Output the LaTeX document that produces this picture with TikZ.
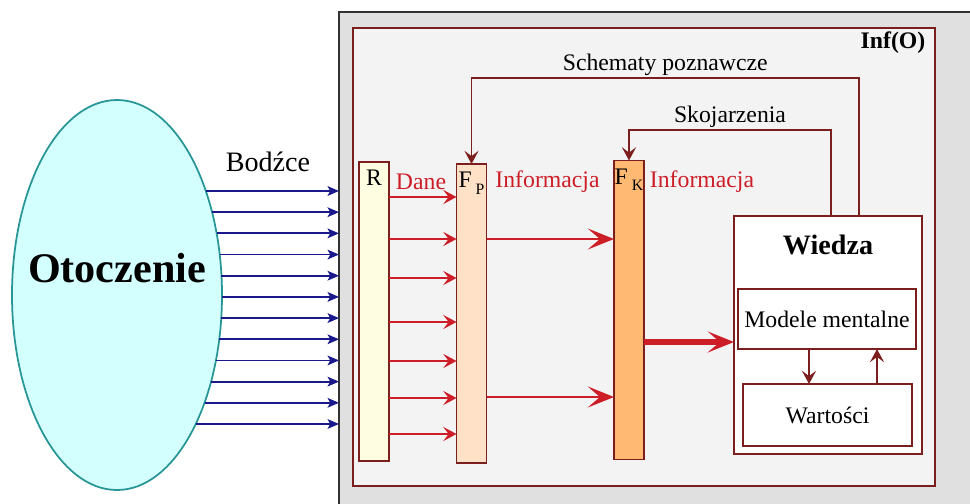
\documentclass[tikz,border=0pt]{standalone}
\usepackage{fontspec}
\setmainfont{Liberation Serif}
\usetikzlibrary{arrows.meta,positioning,shapes.geometric,calc}
\definecolor{inframe}{RGB}{125,30,30}
\definecolor{infored}{RGB}{205,30,40}
\definecolor{stimblue}{RGB}{25,25,140}
\definecolor{envfill}{RGB}{212,255,255}
\definecolor{envedge}{RGB}{40,150,150}
\definecolor{sysgrey}{RGB}{224,224,224}
\definecolor{sysedge}{RGB}{50,50,50}
\definecolor{infgrey}{RGB}{243,243,243}
\definecolor{rfill}{RGB}{255,253,225}
\definecolor{fpfill}{RGB}{255,225,200}
\definecolor{fkfill}{RGB}{255,185,115}
\newcommand\filtsub[1]{\,\raisebox{-0.13cm}{\fontsize{9}{10}\selectfont #1}}

\begin{document}
\begin{tikzpicture}[
    lbl/.style={font=\fontsize{13.5}{16}\selectfont, inner sep=1pt, text=black},
    redlbl/.style={lbl, text=infored},
    bar/.style={rectangle, draw=inframe, line width=1pt, minimum width=0.6cm,
                minimum height=5.98cm, inner sep=0pt, outer sep=0pt},
    kbox/.style={rectangle, draw=inframe, line width=1pt, fill=white,
                 inner sep=0pt, outer sep=0pt, font=\fontsize{13.5}{16}\selectfont},
    stim/.style={-{Stealth[length=6.5pt,width=5.5pt,inset=1.5pt]}, line width=1pt, stimblue},
    dat/.style={-{Stealth[length=7.5pt,width=8pt,inset=3pt]}, line width=1pt, infored},
    infarr/.style={-{Stealth[length=15pt,width=12pt,inset=7pt]}, line width=1pt, infored},
    fb/.style={-{Stealth[length=7.5pt,width=8pt,inset=3pt]}, line width=1pt, inframe}
  ]
    \clip (0,0) rectangle (19.4,10.06);

    % environment
    \node[ellipse, draw=envedge, fill=envfill, line width=1pt, minimum width=4.2cm,
          minimum height=7.8cm, inner sep=0pt, outer sep=0pt] (env) at (2.34,4.16) {};
    \node[font=\fontsize{24}{28}\selectfont\bfseries] (envtxt) at (2.34,4.70) {Otoczenie};

    % system and Inf(O)
    \node[rectangle, draw=sysedge, fill=sysgrey, line width=1pt, anchor=north west,
          minimum width=14cm, minimum height=11cm, outer sep=0pt] (sys) at (6.78,9.82) {};
    \node[rectangle, draw=inframe, fill=infgrey, line width=1pt, anchor=north west,
          minimum width=11.64cm, minimum height=9.16cm, inner sep=0pt] (inf) at (7.04,9.52) {};
    \node[lbl, font=\fontsize{13.5}{16}\selectfont\bfseries] (inflbl) at (17.86,9.2) {Inf(O)};

    % stimuli
    \node[font=\fontsize{16}{19}\selectfont] (bodz) at (5.36,6.82) {Bodźce};
    \foreach \i in {0,...,11} {
      \pgfmathsetmacro\dy{2.08-0.4236*\i}
      \pgfmathsetmacro\bx{2.1*sqrt(1-(\dy/3.9)^2)}
      \draw[stim] ($(env.center)+(\bx,\dy)$) coordinate (s) -- (s -| sys.west);
    }

    % filters
    \node[bar, fill=rfill]  (R)  at (7.48,3.83) {};
    \node[bar, fill=fpfill] (FP) at (9.43,3.79) {};
    \node[bar, fill=fkfill] (FK) at (12.58,3.86) {};
    \node[lbl, below=0.12cm of R.north]  {R};
    \node[lbl, below=0.12cm of FP.north] {F\filtsub{P}};
    \node[lbl, below=0.12cm of FK.north] {F\filtsub{K}};

    \node[redlbl] (dane)  at (8.42,6.42)  {Dane};
    \node[redlbl] (info1) at (10.95,6.42) {Informacja};
    \node[redlbl] (info2) at (14.04,6.42) {Informacja};

    % knowledge
    \node[kbox, minimum width=3.76cm, minimum height=4.76cm] (Wz) at (16.56,3.36) {};
    \node[font=\fontsize{16}{19}\selectfont\bfseries, inner sep=1pt, below=0.33cm of Wz.north] {Wiedza};
    \node[kbox, minimum width=3.56cm, minimum height=1.2cm]  (Mm) at (16.54,3.68) {Modele mentalne};
    \node[kbox, minimum width=3.38cm, minimum height=1.24cm] (Wt) at (16.55,1.76) {Wartości};

    \draw[fb] ([xshift=-0.36cm]Mm.south) -- ([xshift=-0.36cm]Mm.south |- Wt.north);
    \draw[fb] ([xshift=0.99cm]Wt.north) -- ([xshift=0.99cm]Wt.north |- Mm.south);

    % data and information flow
    \foreach \y in {6.12,5.28,4.50,3.62,2.84,2.10,1.38}
      \draw[dat] (R.east |- 0,\y) -- (FP.west |- 0,\y);
    \foreach \y in {5.28,2.12}
      \draw[infarr] (FP.east |- 0,\y) -- (FK.west |- 0,\y);
    \draw[infarr, line width=3pt] (FK.east |- 0,3.22) -- (Wz.west |- 0,3.22);

    % feedback loops
    \draw[fb] ([xshift=0.62cm]Wz.north) -- ++(0,2.76) -| (FP.north)
      node[lbl, pos=0.25, above] {Schematy poznawcze};
    \draw[fb] ([xshift=0.06cm]Wz.north) -- ++(0,1.72) -| (FK.north)
      node[lbl, pos=0.25, above] {Skojarzenia};
  \end{tikzpicture}
\end{document}
